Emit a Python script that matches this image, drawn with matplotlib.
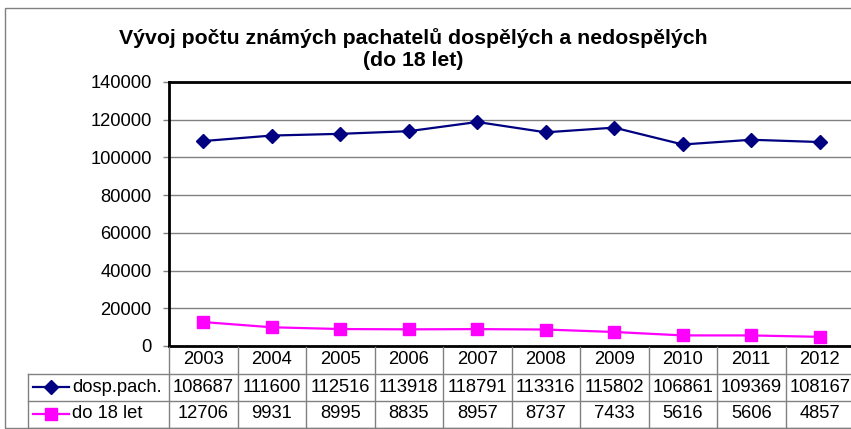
import matplotlib.pyplot as plt
from matplotlib.patches import Rectangle

years = ['2003', '2004', '2005', '2006', '2007', '2008', '2009', '2010', '2011', '2012']
dosp = [108687, 111600, 112516, 113918, 118791, 113316, 115802, 106861, 109369, 108167]
mladi = [12706, 9931, 8995, 8835, 8957, 8737, 7433, 5616, 5606, 4857]
series_names = ['dosp.pach.', 'do 18 let']
yticks = [0, 20000, 40000, 60000, 80000, 100000, 120000, 140000]

plt.rcParams['font.family'] = ['Liberation Sans', 'DejaVu Sans']
fontsize = 13.2
W, H = 851, 429

fig = plt.figure(figsize=(W / 100, H / 100), dpi=100)

# outer chart border
fig.patches.append(Rectangle((5 / W, 1.5 / H), 2, (H - 8 - 1.5) / H,
                             transform=fig.transFigure, fill=False,
                             edgecolor='#808080', lw=1))

fig.text(413 / W, 1 - 38 / H, 'Vývoj počtu známých pachatelů dospělých a nedospělých',
         ha='center', va='center', fontsize=15.3, fontweight='bold')
fig.text(413 / W, 1 - 61 / H, '(do 18 let)',
         ha='center', va='center', fontsize=15.3, fontweight='bold')

colw = 68.5
left = 169
ax = fig.add_axes([left / W, (H - 346) / H, 10 * colw / W, (346 - 82) / H])
x = list(range(len(years)))
styles = [dict(color='#000080', marker='D', markersize=7),
          dict(color='#FF00FF', marker='s', markersize=8.5)]
ax.plot(x, dosp, lw=1.6, **styles[0])
ax.plot(x, mladi, lw=1.6, **styles[1])
ax.set_xlim(-0.5, 9.5)
ax.set_ylim(0, 140000)
ax.set_yticks(yticks)
ax.set_yticklabels([str(v) for v in yticks], fontsize=fontsize)
ax.set_xticks([])
ax.yaxis.grid(True, color='#808080', lw=1)
ax.set_axisbelow(True)
ax.tick_params(axis='y', length=4.5, width=1, color='#808080', pad=8)
for s in ['top', 'left', 'bottom']:
    ax.spines[s].set_linewidth(2)
    ax.spines[s].set_color('black')
ax.spines['right'].set_visible(False)

# data table under the plot
tab = fig.add_axes([left / W, 1.5 / H, 10 * colw / W, (427 - 346) / H])
tab.set_xlim(-0.5, 9.5)
tab.set_ylim(3, 0)
tab.axis('off')
lab_left = -0.5 - (left - 28) / colw
gc = '#808080'
for i, yr in enumerate(years):
    tab.text(i, 0.5, yr, ha='center', va='center', fontsize=fontsize)
    tab.text(i, 1.5, str(dosp[i]), ha='center', va='center', fontsize=fontsize)
    tab.text(i, 2.5, str(mladi[i]), ha='center', va='center', fontsize=fontsize)
for k in range(11):
    tab.plot([k - 0.5, k - 0.5], [0, 3], color=gc, lw=1, clip_on=False)
tab.plot([lab_left, lab_left], [1, 3], color=gc, lw=1, clip_on=False)
for r in [1, 2, 3]:
    tab.plot([lab_left, 9.5], [r, r], color=gc, lw=1, clip_on=False)
for r, name in enumerate(series_names):
    yy = 1.5 + r
    x0 = -0.5 - (left - 33) / colw
    x1 = -0.5 - (left - 69) / colw
    tab.plot([x0, x1], [yy, yy], lw=1.6, clip_on=False, color=styles[r]['color'])
    tab.plot([(x0 + x1) / 2], [yy], clip_on=False, linestyle='none', **styles[r])
    tab.text(-0.5 - (left - 72) / colw, yy, name, ha='left', va='center', fontsize=fontsize)

fig.savefig('out.png', dpi=100)
